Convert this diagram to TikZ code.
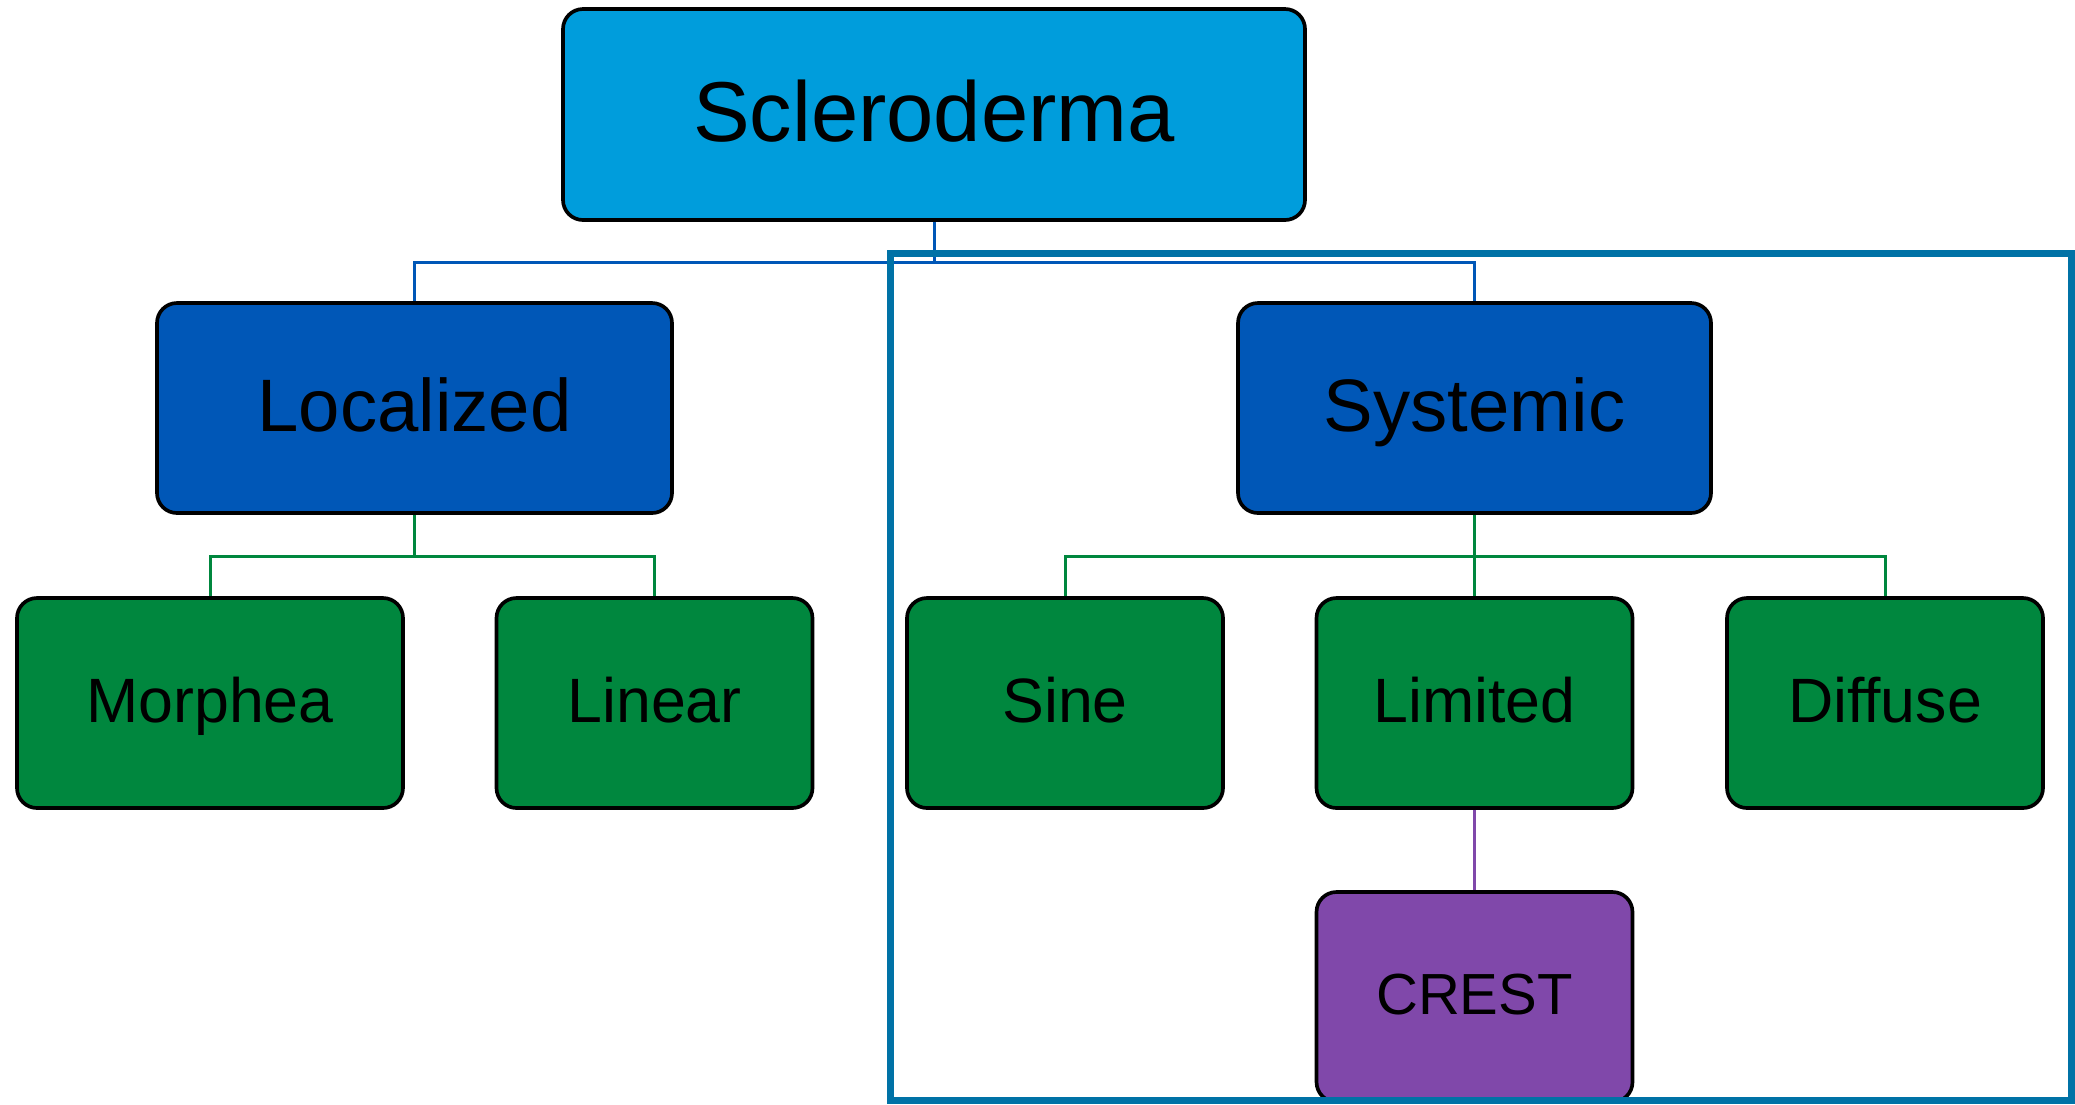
\documentclass[tikz,border=0pt]{standalone}
\usepackage{fontspec}
\setmainfont{Liberation Sans}
\definecolor{sclblue}{RGB}{0,157,220}
\definecolor{midblue}{RGB}{0,87,183}
\definecolor{leafgreen}{RGB}{0,135,62}
\definecolor{crestpurple}{RGB}{128,72,170}
\definecolor{framecol}{RGB}{0,114,166}
\begin{document}
\begin{tikzpicture}[x=0.3pt,y=-0.3pt,
  box/.style={draw=black,line width=1.1pt,rounded corners=6pt,inner sep=0pt,anchor=center,text=black,text depth=2pt},
  top/.style={box,fill=sclblue,minimum width=222.6pt,minimum height=63.3pt,font=\fontsize{25.5}{30}\selectfont,text height=18.26pt},
  mid/.style={box,fill=midblue,minimum height=63pt,font=\fontsize{22.3}{26}\selectfont,text height=15.97pt},
  leaf/.style={box,fill=leafgreen,minimum width=94.8pt,minimum height=63pt,font=\fontsize{18.8}{22}\selectfont,text height=13.46pt},
  crestbox/.style={box,fill=crestpurple,minimum width=94.8pt,minimum height=63pt,font=\fontsize{17.4}{21}\selectfont,text height=12.46pt},
  bluecon/.style={draw=midblue,line width=0.9pt},
  greencon/.style={draw=leafgreen,line width=0.9pt},
  purplecon/.style={draw=crestpurple,line width=0.9pt},
  frame/.style={draw=framecol,line width=2.1pt}]
\useasboundingbox (0,0) rectangle (2075,1104);
% nodes
\node[top] (scl) at (934,114.5) {Scleroderma};
\node[mid,minimum width=154.5pt] (loc) at (414.5,408) {Localized};
\node[mid,minimum width=141.9pt] (sys) at (1474.5,408) {Systemic};
\node[leaf,minimum width=115.8pt] (mor) at (210,703) {Morphea};
\node[leaf] (lin) at (654.5,703) {Linear};
\node[leaf] (sin) at (1065,703) {Sine};
\node[leaf] (lim) at (1474.5,703) {Limited};
\node[leaf] (dif) at (1885,703) {Diffuse};
\node[crestbox] (crest) at (1474.5,997) {CREST};
% connectors
\coordinate (busA) at (934,262);
\coordinate (busB) at (414.5,556);
\coordinate (busC) at (1474.5,556);
\draw[bluecon] (scl.south) -- (busA);
\draw[bluecon] (loc.north) |- (busA) -| (sys.north);
\draw[greencon] (loc.south) -- (busB);
\draw[greencon] (mor.north) |- (busB) -| (lin.north);
\draw[greencon] (sys.south) -- (lim.north);
\draw[greencon] (sin.north) |- (busC) -| (dif.north);
\draw[purplecon] (lim.south) -- (crest.north);
% frame around systemic branch
\draw[frame] (890,253) rectangle (2071,1100);
\end{tikzpicture}
\end{document}
